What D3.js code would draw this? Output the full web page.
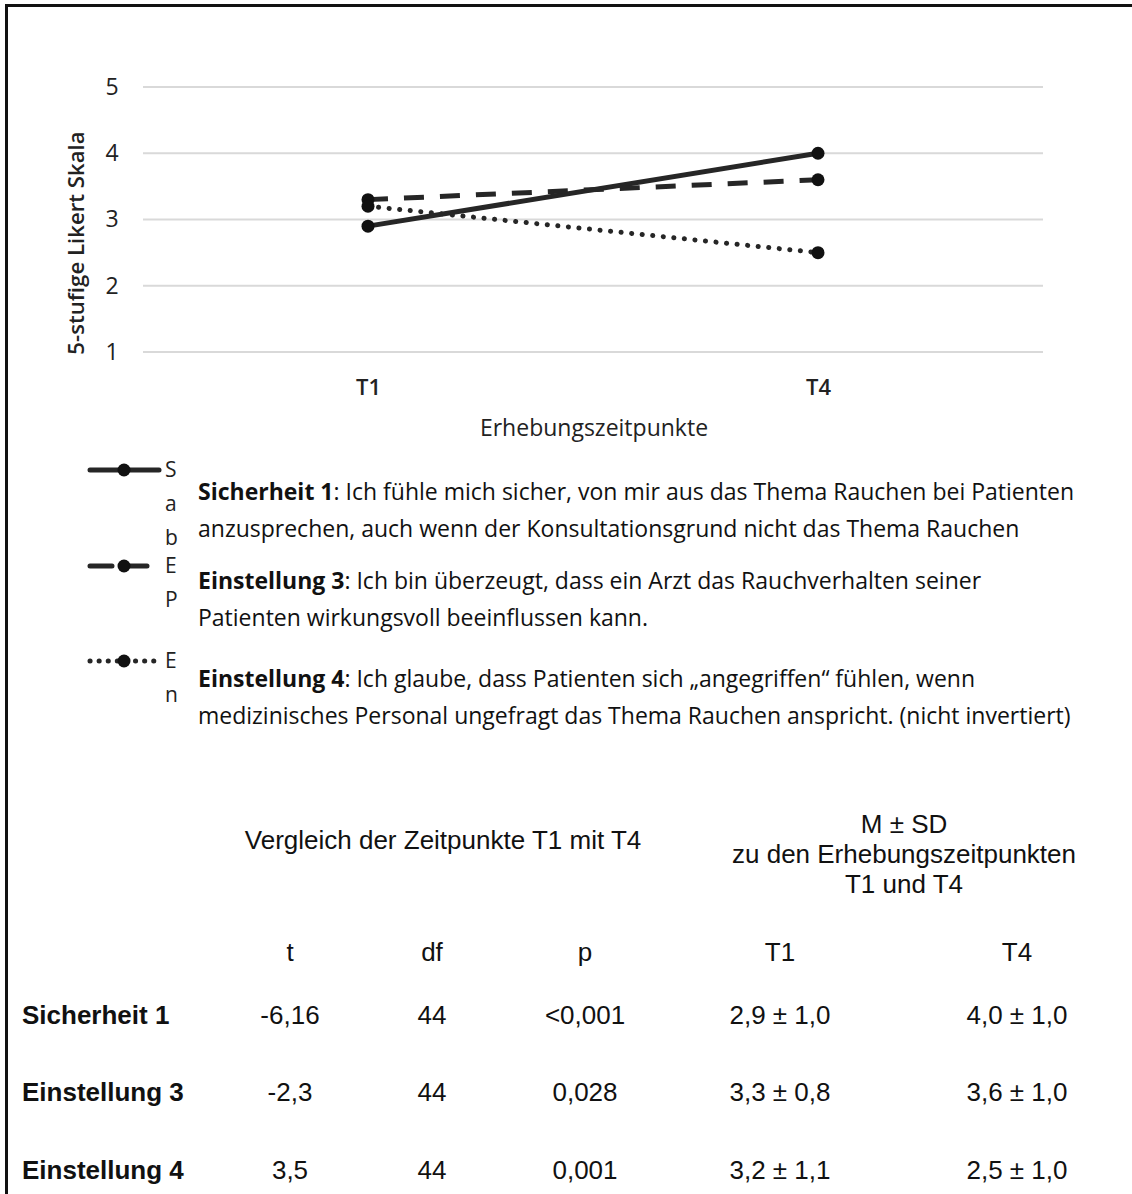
<!DOCTYPE html>
<html>
<head>
<meta charset="utf-8">
<script src="https://cdn.jsdelivr.net/npm/d3@7"></script>
<style>
  body { margin: 0; background: #fff; }
  svg { display: block; }
</style>
</head>
<body>
<div id="chart"></div>
<script>
// Data
const timepoints = ['T1', 'T4'];
const sicherheit1 = [2.9, 4.0];
const einstellung3 = [3.3, 3.6];
const einstellung4 = [3.2, 2.5];
const yTicks = [1, 2, 3, 4, 5];

// legend labels: only their first letters show, the text box covers the rest
const legendLabels = [
    ['S', 'a', 'b'],
    ['E', 'P'],
    ['E', 'n']
];

const descriptions = [
    {bold: 'Sicherheit 1', lines: [': Ich fühle mich sicher, von mir aus das Thema Rauchen bei Patienten',
        'anzusprechen, auch wenn der Konsultationsgrund nicht das Thema Rauchen']},
    {bold: 'Einstellung 3', lines: [': Ich bin überzeugt, dass ein Arzt das Rauchverhalten seiner',
        'Patienten wirkungsvoll beeinflussen kann.']},
    {bold: 'Einstellung 4', lines: [': Ich glaube, dass Patienten sich „angegriffen“ fühlen, wenn',
        'medizinisches Personal ungefragt das Thema Rauchen anspricht. (nicht invertiert)']}
];

// Table
const tableColumns = ['t', 'df', 'p', 'T1', 'T4'];
const rowLabels = ['Sicherheit 1', 'Einstellung 3', 'Einstellung 4'];
const tValues = ['-6,16', '-2,3', '3,5'];
const dfValues = ['44', '44', '44'];
const pValues = ['<0,001', '0,028', '0,001'];
const t1Values = ['2,9 ± 1,0', '3,3 ± 0,8', '3,2 ± 1,1'];
const t4Values = ['4,0 ± 1,0', '3,6 ± 1,0', '2,5 ± 1,0'];

const W = 1132, H = 1194;
const chartFont = '"Open Sans", Lato, sans-serif';
const tableFont = '"Liberation Sans", Arial, sans-serif';

const svg = d3.select('#chart').append('svg')
    .attr('width', W)
    .attr('height', H);

// outer frame (right/bottom edges fall outside the picture)
svg.append('path')
    .attr('d', `M6.5,${H + 10}V5.5H${W + 10}`)
    .style('fill', 'none')
    .style('stroke', '#111')
    .style('stroke-width', 3);

const x = d3.scalePoint()
    .domain(timepoints)
    .range([143, 1043])
    .padding(0.5);

const y = d3.scaleLinear()
    .domain([1, 5])
    .range([352, 87]);

// gridlines
svg.append('g')
    .selectAll('line')
    .data(yTicks)
    .join('line')
    .attr('x1', 143).attr('x2', 1043)
    .attr('y1', d => y(d)).attr('y2', d => y(d))
    .style('stroke', '#d9d9d9')
    .style('stroke-width', 2);

// y axis labels
const yAxis = svg.append('g')
    .attr('transform', 'translate(120,0)')
    .call(d3.axisLeft(y).tickValues(yTicks).tickSize(0).tickPadding(0).tickFormat(d3.format('d')));
yAxis.select('.domain').remove();
yAxis.selectAll('text')
    .attr('text-anchor', 'middle')
    .attr('x', -8)
    .style('font-family', chartFont)
    .style('font-size', '23px')
    .style('fill', '#222');

svg.append('text')
    .attr('transform', 'translate(76,243) rotate(-90)')
    .attr('dy', '0.35em')
    .attr('text-anchor', 'middle')
    .style('font-family', chartFont)
    .style('font-size', '22.2px')
    .style('font-weight', 600)
    .style('fill', '#222')
    .text('5-stufige Likert Skala');

// x axis labels
const xAxis = svg.append('g')
    .attr('transform', 'translate(0,387)')
    .call(d3.axisBottom(x).tickSize(0).tickPadding(0));
xAxis.select('.domain').remove();
xAxis.selectAll('text')
    .attr('y', 0)
    .attr('dy', '0.35em')
    .style('font-family', chartFont)
    .style('font-size', '22px')
    .style('font-weight', 600)
    .style('fill', '#222');

svg.append('text')
    .attr('x', 594).attr('y', 428)
    .attr('dy', '0.35em')
    .attr('text-anchor', 'middle')
    .style('font-family', chartFont)
    .style('font-size', '23px')
    .style('fill', '#222')
    .text('Erhebungszeitpunkte');

// series
const series = [
    {values: sicherheit1, dash: null, width: 5},
    {values: einstellung3, dash: '20,16', width: 5},
    {values: einstellung4, dash: '0.1,10.5', width: 5}
];

const line = d3.line()
    .x((d, i) => x(timepoints[i]))
    .y(d => y(d));

series.forEach(s => {
    svg.append('path')
        .datum(s.values)
        .attr('d', line)
        .style('fill', 'none')
        .style('stroke', '#262626')
        .style('stroke-width', s.width)
        .style('stroke-linecap', s.dash === '0.1,10.5' ? 'round' : 'butt')
        .style('stroke-dasharray', s.dash);
    svg.append('g')
        .selectAll('circle')
        .data(s.values)
        .join('circle')
        .attr('cx', (d, i) => x(timepoints[i]))
        .attr('cy', d => y(d))
        .attr('r', 6.5)
        .style('fill', '#111');
});

// legend (its labels are hidden under the text box)
const legendY = [470, 566, 661];
const legend = svg.append('g');
series.forEach((s, i) => {
    const g = legend.append('g').attr('transform', `translate(0,${legendY[i]})`);
    g.append('line')
        .attr('x1', 90).attr('x2', 159)
        .attr('y1', 0).attr('y2', 0)
        .style('stroke', '#262626')
        .style('stroke-width', s.width)
        .style('stroke-linecap', 'round')
        .style('stroke-dasharray', s.dash === null ? null : (s.dash === '0.1,10.5' ? '0.1,9' : '22,13'));
    g.append('circle')
        .attr('cx', 124).attr('cy', 0)
        .attr('r', 6.5)
        .style('fill', '#111');
    g.selectAll('text')
        .data(legendLabels[i])
        .join('text')
        .attr('x', 165)
        .attr('y', (d, j) => j * 34)
        .attr('dy', '0.35em')
        .style('font-family', chartFont)
        .style('font-size', '21px')
        .style('fill', '#222')
        .text(d => d);
});

// description text box
const descY = [492, 581, 679];
descriptions.forEach((d, i) => {
    const t = svg.append('text')
        .attr('x', 198).attr('y', descY[i])
        .attr('dy', '0.35em')
        .style('font-family', chartFont)
        .style('font-size', '23px')
        .style('fill', '#111');
    t.append('tspan').style('font-weight', 700).text(d.bold);
    t.append('tspan').text(d.lines[0]);
    svg.append('text')
        .attr('x', 198).attr('y', descY[i] + 37)
        .attr('dy', '0.35em')
        .style('font-family', chartFont)
        .style('font-size', '23px')
        .style('fill', '#111')
        .text(d.lines[1]);
});

// statistics table
const table = svg.append('g')
    .style('font-family', tableFont)
    .style('font-size', '26px')
    .style('fill', '#111');

table.append('text')
    .attr('x', 443).attr('y', 840).attr('dy', '0.35em')
    .attr('text-anchor', 'middle')
    .text('Vergleich der Zeitpunkte T1 mit T4');

table.selectAll('text.msd')
    .data(['M ± SD', 'zu den Erhebungszeitpunkten', 'T1 und T4'])
    .join('text')
    .attr('class', 'msd')
    .attr('x', 904)
    .attr('y', (d, i) => 824 + i * 30)
    .attr('dy', '0.35em')
    .attr('text-anchor', 'middle')
    .text(d => d);

const colX = [290, 432, 585, 780, 1017];
table.selectAll('text.colhead')
    .data(tableColumns)
    .join('text')
    .attr('class', 'colhead')
    .attr('x', (d, i) => colX[i])
    .attr('y', 952).attr('dy', '0.35em')
    .attr('text-anchor', 'middle')
    .text(d => d);

const rowY = [1015, 1092, 1170];
rowLabels.forEach((label, r) => {
    table.append('text')
        .attr('x', 22).attr('y', rowY[r]).attr('dy', '0.35em')
        .style('font-weight', 700)
        .text(label);
    [tValues, dfValues, pValues, t1Values, t4Values].forEach((col, c) => {
        table.append('text')
            .attr('x', colX[c]).attr('y', rowY[r]).attr('dy', '0.35em')
            .attr('text-anchor', 'middle')
            .text(col[r]);
    });
});
</script>
</body>
</html>
